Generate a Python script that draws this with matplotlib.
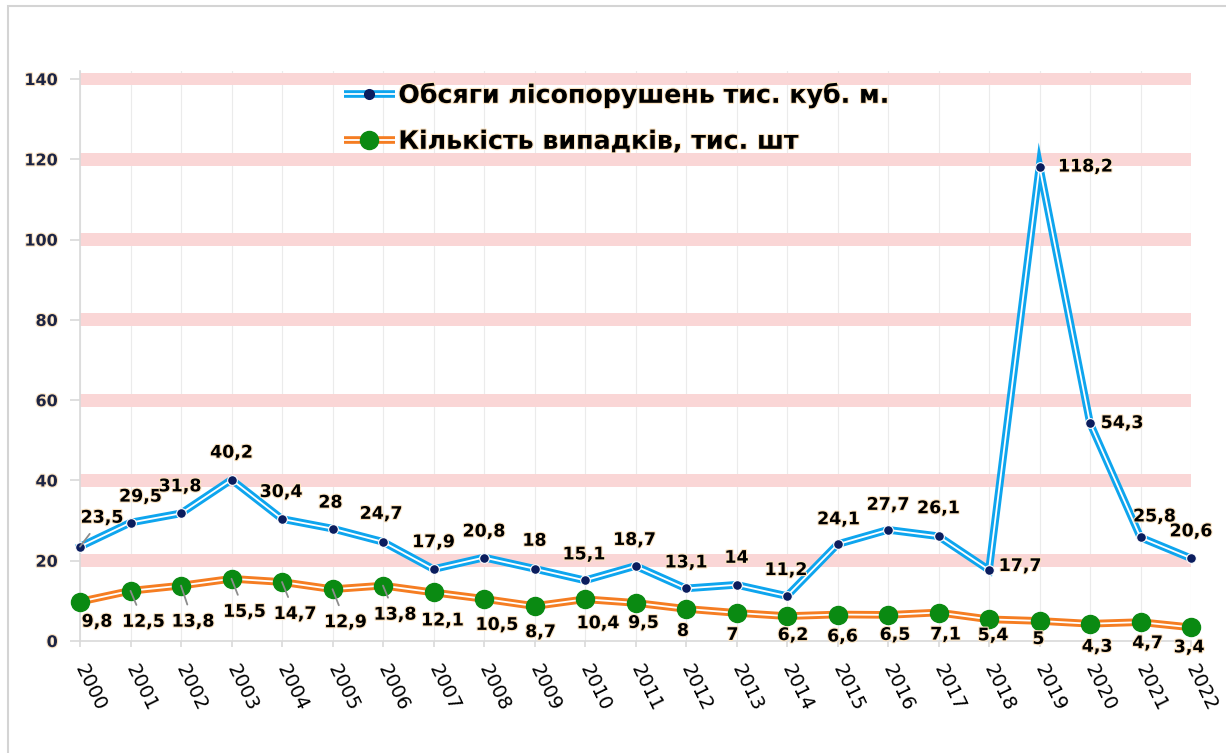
import matplotlib
matplotlib.use('Agg')
import matplotlib.pyplot as plt
import matplotlib.patheffects as pe
from matplotlib.lines import Line2D
from matplotlib.legend_handler import HandlerTuple
from matplotlib.patches import Rectangle

# Data
years = list(range(2000, 2023))
volume = [23.5, 29.5, 31.8, 40.2, 30.4, 28, 24.7, 17.9, 20.8, 18, 15.1, 18.7,
          13.1, 14, 11.2, 24.1, 27.7, 26.1, 17.7, 118.2, 54.3, 25.8, 20.6]
cases = [9.8, 12.5, 13.8, 15.5, 14.7, 12.9, 13.8, 12.1, 10.5, 8.7, 10.4, 9.5,
         8, 7, 6.2, 6.6, 6.5, 7.1, 5.4, 5, 4.3, 4.7, 3.4]
volume_name = 'Обсяги лісопорушень тис. куб. м.'
cases_name = 'Кількість випадків, тис. шт'

# label offsets in pixels (right, down) from each point
vol_offsets = [(22, -29), (10, -26), (-1, -27), (0, -27), (-1, -27), (-2, -26),
               (-2, -28), (0, -27), (0, -26), (0, -28), (-1, -26), (-1, -26),
               (0, -26), (0, -27), (-1, -26), (1, -25), (0, -25), (0, -28),
               (31, -4), (46, 0), (32, 0), (14, -21), (0, -27)]
case_offsets = [(17, 20), (13, 31), (12, 36), (13, 33), (13, 32), (13, 33),
                (12, 29), (9, 28), (13, 26), (6, 26), (13, 24), (8, 20),
                (-3, 22), (-4, 22), (6, 19), (5, 22), (7, 20), (7, 22),
                (4, 16), (-1, 18), (7, 23), (7, 21), (-2, 20)]
vol_leaders = [0]
case_leaders = [1, 2, 3, 4, 5, 6]

blue = '#0ea5ee'
orange = '#f57d22'
navy = '#0b1d5e'
green = '#0a8a12'
band = '#fad6d6'
halo = [pe.withStroke(linewidth=1.6, foreground='#fce3c0')]

px = 72 / 100  # points per pixel at dpi 100

fig = plt.figure(figsize=(12.26, 7.53), dpi=100)
fig.patches.append(Rectangle((8 / 1226, -0.1), 1.2, 1.1 - 6 / 753,
                             transform=fig.transFigure, fill=False,
                             edgecolor='#d4d4d4', lw=1.5))
ax = fig.add_axes([80 / 1226, 112 / 753, 1111 / 1226, 570 / 753])
ax.set_xlim(2000, 2022)
ax.set_ylim(0, 142)

# pink bands at each gridline
for g in range(20, 141, 20):
    ax.axhspan(g - 1.6, g + 1.6, color=band, lw=0, zorder=0.5)
for yr in years:
    ax.axvline(yr, color='#ebebeb', lw=0.8, zorder=0.4)

for s in ['top', 'right']:
    ax.spines[s].set_visible(False)
for s in ['left', 'bottom']:
    ax.spines[s].set_color('#d9d9d9')
    ax.spines[s].set_linewidth(1.2)

# double lines
ax.plot(years, cases, color=orange, lw=5.5, zorder=3, clip_on=False)
ax.plot(years, cases, color='white', lw=1.3, zorder=3.1, clip_on=False)
ax.plot(years, cases, ls='none', marker='o', ms=13, color=green, zorder=3.2, clip_on=False)
ax.plot(years, volume, color=blue, lw=5.5, zorder=4, clip_on=False,
        solid_joinstyle='miter')
ax.plot(years, volume, color='white', lw=1.3, zorder=4.1, clip_on=False)
ax.plot(years, volume, ls='none', marker='o', ms=7, color=navy, mec='white',
        mew=0.8, zorder=4.2, clip_on=False)

def label_series(vals, offs, leaders):
    for i, (yr, v) in enumerate(zip(years, vals)):
        dx, dy = offs[i]
        txt = f'{v:g}'.replace('.', ',')
        kw = {}
        if i in leaders:
            kw['arrowprops'] = dict(arrowstyle='-', color='#8c8c8c', lw=1.3,
                                    shrinkA=4, shrinkB=0)
        t = ax.annotate(txt, (yr, v), xytext=(dx * px, -dy * px),
                        textcoords='offset points', ha='center', va='center',
                        fontsize=12.5, fontweight='bold', color='black',
                        zorder=6, annotation_clip=False, **kw)
        t.set_path_effects(halo)

label_series(volume, vol_offsets, vol_leaders)
label_series(cases, case_offsets, case_leaders)

ax.set_yticks(range(0, 141, 20))
ax.set_yticklabels([str(v) for v in range(0, 141, 20)], fontsize=11.5,
                   fontweight='bold', color='#1c2444')
for t in ax.get_yticklabels():
    t.set_path_effects(halo)
ax.tick_params(axis='y', length=7, color='#d9d9d9', width=1.2, pad=9)

ax.set_xticks(years)
ax.set_xticklabels([str(y) for y in years], fontsize=14, rotation=-64,
                   rotation_mode='anchor', ha='left', va='center')
ax.tick_params(axis='x', length=4, color='#d9d9d9', width=1.2, pad=14)

# legend with double-line handles
h_vol = (Line2D([], [], color=blue, lw=5.5, solid_capstyle='butt'),
         Line2D([], [], color='white', lw=1.3, solid_capstyle='butt'),
         Line2D([], [], ls='none', marker='o', ms=7, color=navy))
h_case = (Line2D([], [], color=orange, lw=5.5, solid_capstyle='butt'),
          Line2D([], [], color='white', lw=1.3, solid_capstyle='butt'),
          Line2D([], [], ls='none', marker='o', ms=13, color=green))
leg = fig.legend([h_vol, h_case], [volume_name, cases_name],
                 handler_map={tuple: HandlerTuple(ndivide=1, pad=0)},
                 loc='upper left', bbox_to_anchor=(344 / 1226, 1 - 83 / 753),
                 frameon=False, prop={'size': 18.2, 'weight': 'bold'},
                 handlelength=2.0, handletextpad=0.15, labelspacing=0.87,
                 borderpad=0, borderaxespad=0)
for t in leg.get_texts():
    t.set_path_effects(halo)

fig.savefig('out.png', dpi=100)
